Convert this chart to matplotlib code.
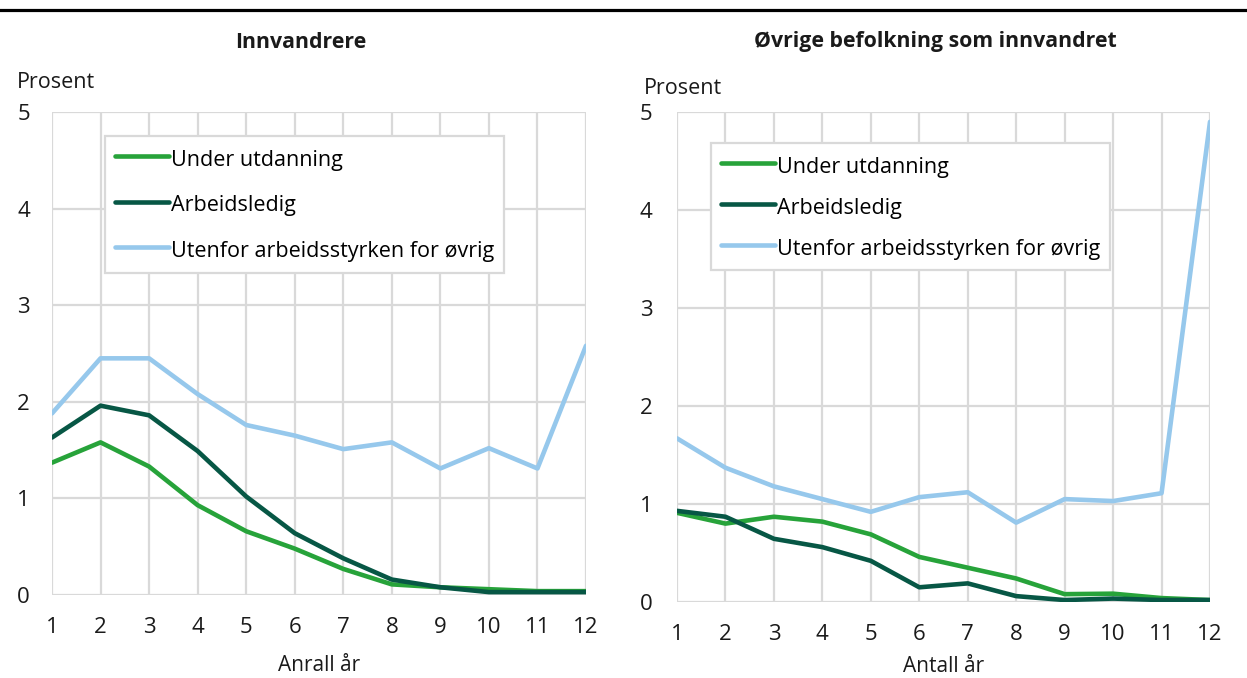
import numpy as np
import matplotlib.pyplot as plt
from matplotlib.lines import Line2D

plt.rcParams['font.family'] = ['Open Sans', 'DejaVu Sans']

years = list(range(1, 13))
series_names = ['Under utdanning', 'Arbeidsledig', 'Utenfor arbeidsstyrken for øvrig']
colors = ['#27a33a', '#075745', '#96c8ec']

# Innvandrere
innv_utdanning = [1.37, 1.58, 1.33, 0.93, 0.66, 0.48, 0.27, 0.11, 0.08, 0.06, 0.04, 0.04]
innv_ledig = [1.63, 1.96, 1.86, 1.49, 1.02, 0.64, 0.38, 0.16, 0.08, 0.03, 0.03, 0.03]
innv_utenfor = [1.88, 2.45, 2.45, 2.08, 1.76, 1.65, 1.51, 1.58, 1.31, 1.52, 1.31, 2.58]

# Øvrige befolkning
ovr_utdanning = [0.91, 0.80, 0.87, 0.82, 0.69, 0.46, 0.35, 0.24, 0.08, 0.085, 0.04, 0.02]
ovr_ledig = [0.93, 0.87, 0.645, 0.56, 0.42, 0.15, 0.19, 0.06, 0.02, 0.035, 0.02, 0.02]
ovr_utenfor = [1.67, 1.37, 1.18, 1.05, 0.92, 1.07, 1.12, 0.81, 1.05, 1.03, 1.11, 4.90]

W, H = 1247, 678
fig = plt.figure(figsize=(W / 100, H / 100), dpi=100)

# black rule at the top
fig.add_artist(Line2D([0, 1], [1 - 9.5 / H, 1 - 9.5 / H], color='black', lw=2.3))

fs = 15.5
panels = [
    ([52, 112, 586, 595], [innv_utdanning, innv_ledig, innv_utenfor], 'Innvandrere', 'Anrall år',
     (105, 136), 0.97, (17, 83), 301, 16, 12),
    ([677, 112, 1210, 602], [ovr_utdanning, ovr_ledig, ovr_utenfor], 'Øvrige befolkning som innvandret',
     'Antall år', (711, 143), 0.75, (644, 89), 935, 17.5, 8),
]

for box, data, title, xlab, leg_xy, lspace, pros_xy, cx, ypad, xlpad in panels:
    x0, y0, x1, y1 = box
    ax = fig.add_axes([x0 / W, 1 - y1 / H, (x1 - x0) / W, (y1 - y0) / H])
    for vals, name, c in zip(data, series_names, colors):
        ax.plot(years, vals, color=c, lw=3.3, label=name, solid_capstyle='round', zorder=3)
    ax.set_xlim(1, 12)
    ax.set_ylim(0, 5)
    ax.set_xticks(years)
    ax.set_yticks(range(0, 6))
    ax.grid(True, color='#d9d9d9', lw=1.6)
    ax.set_axisbelow(True)
    for s in ax.spines.values():
        s.set_visible(False)
    ax.tick_params(length=0, labelsize=16, colors='#1a1a1a')
    ax.tick_params(axis='x', pad=16)
    ax.tick_params(axis='y', pad=ypad)
    ax.set_xlabel(xlab, fontsize=15, labelpad=xlpad, color='#1a1a1a')
    leg = ax.legend(loc='upper left', bbox_to_anchor=(leg_xy[0] / W, 1 - leg_xy[1] / H),
                    bbox_transform=fig.transFigure, fontsize=fs, frameon=True, fancybox=False,
                    edgecolor='#d9d9d9', framealpha=1, handlelength=2.5, handletextpad=0.1,
                    handleheight=1.4, labelspacing=lspace, borderpad=0.47, borderaxespad=0)
    leg.get_frame().set_linewidth(1.6)
    fig.text(pros_xy[0] / W, 1 - pros_xy[1] / H, 'Prosent', fontsize=15.5,
             ha='left', va='center', color='#1a1a1a')
    fig.text(cx / W, 1 - 42 / H, title, fontsize=15.3, fontweight='bold',
             ha='center', va='center', color='#1a1a1a')

fig.savefig('out.png', dpi=100)
